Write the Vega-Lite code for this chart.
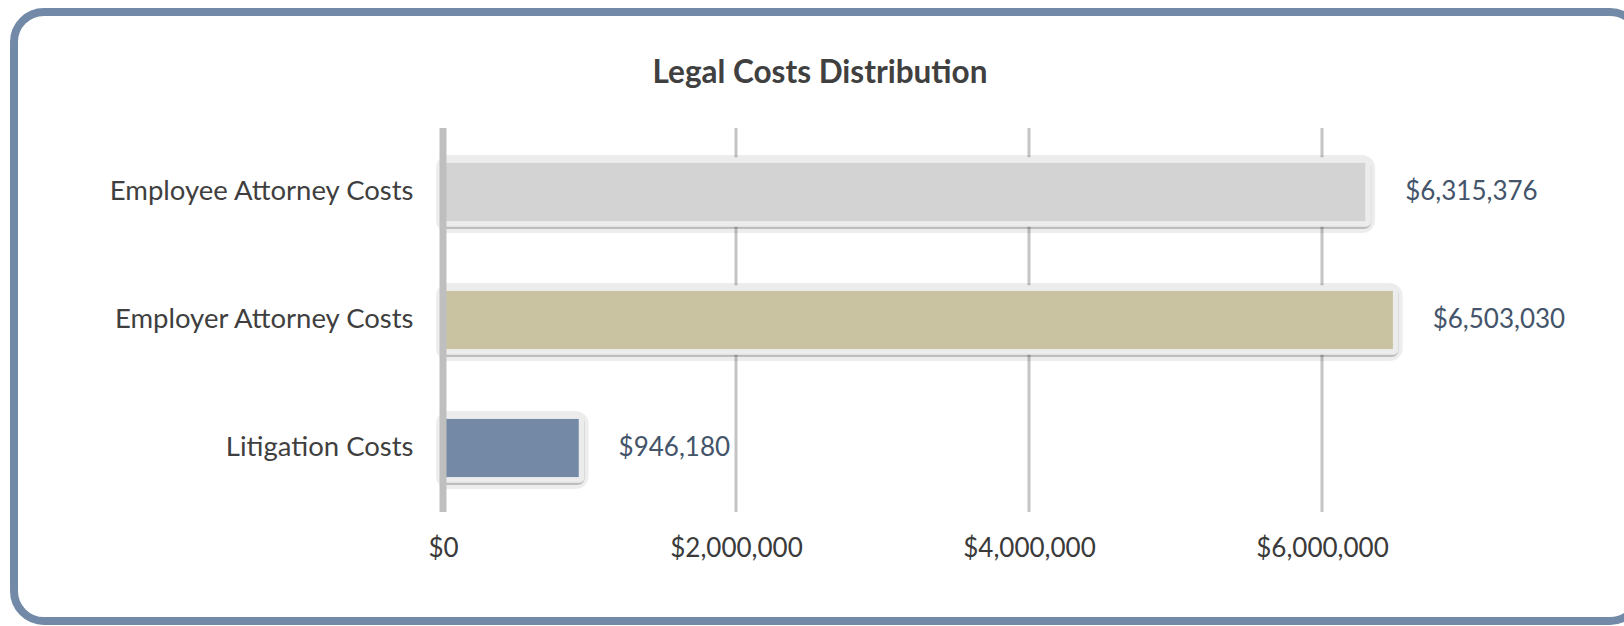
{
  "$schema": "https://vega.github.io/schema/vega-lite/v6.json",
  "width": 1626,
  "height": 609,
  "autosize": "none",
  "padding": {"left": 14, "top": 12, "right": -16, "bottom": 5},
  "background": "white",
  "title": {"text": "Legal Costs Distribution", "anchor": "middle", "frame": "group", "offset": -102, "baseline": "alphabetic", "font": "Lato", "fontSize": 31.5, "fontWeight": "bold", "color": "#404040", "dx": -7},
  "config": {
    "view": {"stroke": "#7289a7", "strokeWidth": 8, "cornerRadius": 30, "fill": "white"},
    "font": "Lato"
  },
  "datasets": {
    "costs": [
      {"category": "Employee Attorney Costs", "value": 6315376},
      {"category": "Employer Attorney Costs", "value": 6503030},
      {"category": "Litigation Costs", "value": 946180}
    ],
    "grid": [{"tick": 2000000}, {"tick": 4000000}, {"tick": 6000000}],
    "zero": [{"tick": 0}]
  },
  "resolve": {"scale": {"y": "independent"}, "axis": {"y": "independent"}},
  "layer": [
    {
      "data": {"name": "grid"},
      "mark": {"type": "rule", "stroke": "#c4c4c4", "strokeWidth": 3},
      "encoding": {
        "x": {"field": "tick", "type": "quantitative"},
        "y": {"datum": 1, "type": "quantitative", "scale": {"domain": [-0.28385, 1.30209], "nice": false, "zero": false}, "axis": null},
        "y2": {"datum": 0}
      }
    },
    {
      "data": {"name": "costs"},
      "encoding": {
        "y": {"field": "category", "type": "nominal", "sort": null,
              "scale": {"domain": ["Employee Attorney Costs", "Employer Attorney Costs", "Litigation Costs"], "range": [116, 500], "paddingInner": 0.5, "paddingOuter": 0.25},
              "axis": {"title": null, "orient": "left", "offset": -429, "domain": false, "ticks": false, "tickSize": 0, "labelPadding": 30, "labelOffset": 0, "labelFont": "Lato", "labelFontSize": 27.5, "labelColor": "#3f3f3f", "labelLimit": 600}}
      },
      "layer": [
        {
          "mark": {"type": "bar", "fill": "#000000", "fillOpacity": 0.05, "stroke": "#000000", "strokeOpacity": 0.07, "strokeWidth": 14, "xOffset": 4, "yOffset": 2, "cornerRadius": 6},
          "encoding": {
            "x": {"field": "value", "type": "quantitative"}
          }
        },
        {
          "mark": {"type": "bar", "fill": "#000000", "fillOpacity": 0.2, "stroke": "#000000", "strokeOpacity": 0.2, "strokeWidth": 6, "xOffset": 4, "yOffset": 2, "cornerRadius": 4},
          "encoding": {
            "x": {"field": "value", "type": "quantitative"}
          }
        },
        {
          "mark": {"type": "bar", "stroke": "#ececec", "strokeWidth": 5.5, "cornerRadius": 2},
          "encoding": {
            "x": {"field": "value", "type": "quantitative",
                  "scale": {"domain": [-2928328, 8170648], "nice": false, "zero": false},
                  "axis": {"title": null, "orient": "bottom", "offset": -109, "values": [0, 2000000, 4000000, 6000000], "format": "$,.0f", "domain": false, "ticks": false, "tickSize": 0, "grid": false, "labelPadding": 23, "labelFont": "Lato", "labelFontSize": 26, "labelColor": "#3a3a3a"}},
            "color": {"field": "category", "type": "nominal", "legend": null,
                      "scale": {"domain": ["Employee Attorney Costs", "Employer Attorney Costs", "Litigation Costs"], "range": ["#d3d3d3", "#c9c3a2", "#7489a6"]}}
          }
        },
        {
          "mark": {"type": "text", "align": "left", "baseline": "middle", "dx": 37, "font": "Lato", "fontSize": 26, "color": "#44546a"},
          "encoding": {
            "x": {"field": "value", "type": "quantitative"},
            "text": {"field": "value", "type": "quantitative", "format": "$,.0f"}
          }
        }
      ]
    },
    {
      "data": {"name": "zero"},
      "mark": {"type": "rule", "stroke": "#bfbfbf", "strokeWidth": 7},
      "encoding": {
        "x": {"field": "tick", "type": "quantitative"},
        "y": {"datum": 1, "type": "quantitative", "scale": {"domain": [-0.28385, 1.30209], "nice": false, "zero": false}, "axis": null},
        "y2": {"datum": 0}
      }
    }
  ]
}
